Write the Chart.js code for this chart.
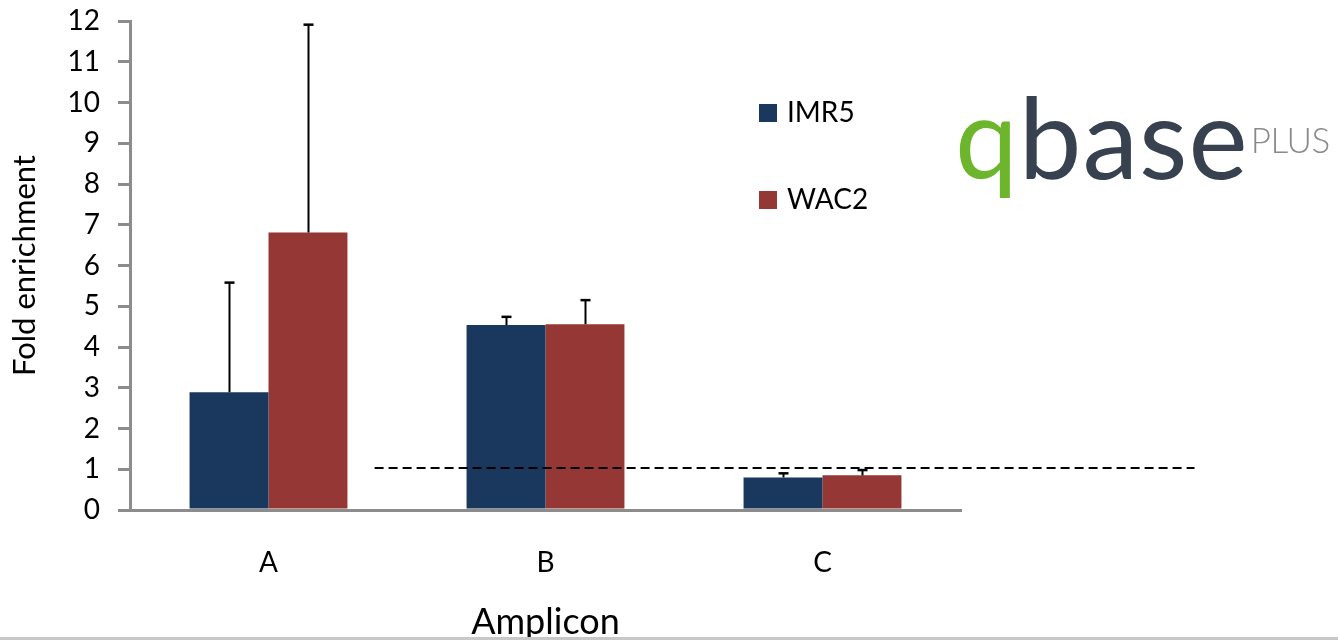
<!DOCTYPE html>
<html>
<head>
<meta charset="utf-8">
<script src="https://cdn.jsdelivr.net/npm/chart.js@4/dist/chart.umd.min.js"></script>
<style>
  html, body { margin: 0; padding: 0; background: #fff; }
  #wrap { position: relative; width: 1338px; height: 640px; overflow: hidden; }
  #c { position: absolute; left: 0; top: 0; }
  #baseline { position: absolute; left: 0; right: 0; bottom: 0; height: 3px; background: #c8c8c8; }
  #logo { position: absolute; left: 955px; top: 80px; font-family: Lato, "Open Sans", sans-serif; white-space: nowrap; line-height: 1; }
  #logo .q { color: #6cb52d; }
  #logo .base { color: #37414f; }
  #logo .main { font-size: 112px; font-weight: 400; letter-spacing: 1px; }
  #logo .plus { font-size: 35px; font-weight: 300; color: #8a8a8a; position: relative; top: -26px; margin-left: 2px; letter-spacing: -0.5px; }
</style>
</head>
<body>
<div id="wrap">
  <canvas id="c" width="1338" height="640"></canvas>
  <div id="logo"><span class="main"><span class="q">q</span><span class="base">base</span></span><span class="plus">PLUS</span></div>
  <div id="baseline"></div>
</div>
<script>
// Amplicons and fold-enrichment per cell line
const amplicons = ['A', 'B', 'C'];
const seriesNames = ['IMR5', 'WAC2'];
const imr5 = [2.89, 4.54, 0.80];
const wac2 = [6.81, 4.56, 0.85];
// upper error bar lengths
const imr5Err = [2.69, 0.20, 0.10];
const wac2Err = [5.10, 0.59, 0.13];
// reference level drawn as a dashed line
const threshold = 1.03;
const yTicks = [0, 1, 2, 3, 4, 5, 6, 7, 8, 9, 10, 11, 12];

const FONT = 'Lato, "Open Sans", sans-serif';
const AXIS_GREY = '#8c8c8c';

const errorBars = {
  id: 'errorBars',
  afterDatasetsDraw(chart, args, opts) {
    const ctx = chart.ctx;
    const yScale = chart.scales.y;
    ctx.save();
    ctx.strokeStyle = '#000';
    chart.data.datasets.forEach((ds, i) => {
      const meta = chart.getDatasetMeta(i);
      meta.data.forEach((bar, j) => {
        const err = ds.errUp[j];
        const top = yScale.getPixelForValue(ds.data[j] + err);
        const x = Math.round(bar.x) + 0.5;
        ctx.lineWidth = 2;
        ctx.beginPath();
        ctx.moveTo(x, bar.y);
        ctx.lineTo(x, top);
        ctx.stroke();
        ctx.lineWidth = 2.5;
        ctx.beginPath();
        ctx.moveTo(x - opts.cap, top);
        ctx.lineTo(x + opts.cap, top);
        ctx.stroke();
      });
    });
    ctx.restore();
  }
};

const refLine = {
  id: 'refLine',
  afterDatasetsDraw(chart, args, opts) {
    const ctx = chart.ctx;
    const x0 = chart.scales.x.getPixelForValue(opts.from);
    const x1 = chart.scales.x.getPixelForValue(opts.to);
    const y = chart.scales.y.getPixelForValue(opts.value);
    ctx.save();
    ctx.strokeStyle = '#000';
    ctx.lineWidth = 2;
    ctx.setLineDash([9, 5]);
    ctx.beginPath();
    ctx.moveTo(x0, y);
    ctx.lineTo(x1, y);
    ctx.stroke();
    ctx.restore();
  }
};

const sideLegend = {
  id: 'sideLegend',
  afterDraw(chart, args, opts) {
    const ctx = chart.ctx;
    ctx.save();
    ctx.font = '28px ' + FONT;
    ctx.textBaseline = 'middle';
    ctx.textAlign = 'left';
    chart.data.datasets.forEach((ds, i) => {
      const cy = opts.top + i * opts.gap;
      ctx.fillStyle = ds.backgroundColor;
      ctx.fillRect(opts.left, cy - opts.box / 2, opts.box, opts.box);
      ctx.fillStyle = '#000';
      ctx.fillText(ds.label, opts.left + opts.box + 10, cy);
    });
    ctx.restore();
  }
};

new Chart(document.getElementById('c'), {
  type: 'bar',
  data: {
    labels: amplicons,
    datasets: [
      { label: seriesNames[0], data: imr5, errUp: imr5Err, backgroundColor: '#1a375e' },
      { label: seriesNames[1], data: wac2, errUp: wac2Err, backgroundColor: '#953735' }
    ]
  },
  options: {
    responsive: false,
    animation: false,
    devicePixelRatio: 1,
    layout: { padding: { left: 0, right: 377, top: 21, bottom: 0 } },
    datasets: { bar: { categoryPercentage: 0.57, barPercentage: 1.0 } },
    plugins: {
      legend: { display: false },
      tooltip: { enabled: false },
      errorBars: { cap: 5 },
      refLine: { value: threshold, from: 0.383, to: 3.343 },
      sideLegend: { left: 759, top: 113, gap: 87, box: 18 }
    },
    scales: {
      x: {
        afterFit(scale) { scale.height = 130; },
        grid: { display: false, drawTicks: false },
        border: { display: true, color: AXIS_GREY, width: 3 },
        ticks: { color: '#000', font: { family: FONT, size: 28 }, padding: 36 },
        title: { display: true, text: 'Amplicon', color: '#000', font: { family: FONT, size: 36, lineHeight: 1 }, padding: { top: 0, bottom: 0 } }
      },
      y: {
        min: 0, max: 12,
        afterFit(scale) { scale.width = 130; scale.paddingTop = 0; scale.paddingBottom = 0; },
        afterBuildTicks(scale) { scale.ticks = yTicks.map(v => ({ value: v })); },
        grid: { drawOnChartArea: false, drawTicks: true, tickLength: 12, color: AXIS_GREY, lineWidth: 3 },
        border: { display: true, color: AXIS_GREY, width: 3 },
        ticks: { color: '#000', font: { family: FONT, size: 28 }, padding: 18 },
        title: { display: true, text: 'Fold enrichment', color: '#000', font: { family: FONT, size: 31 }, padding: { top: 6, bottom: 0 } }
      }
    }
  },
  plugins: [errorBars, refLine, sideLegend]
});
</script>
</body>
</html>
